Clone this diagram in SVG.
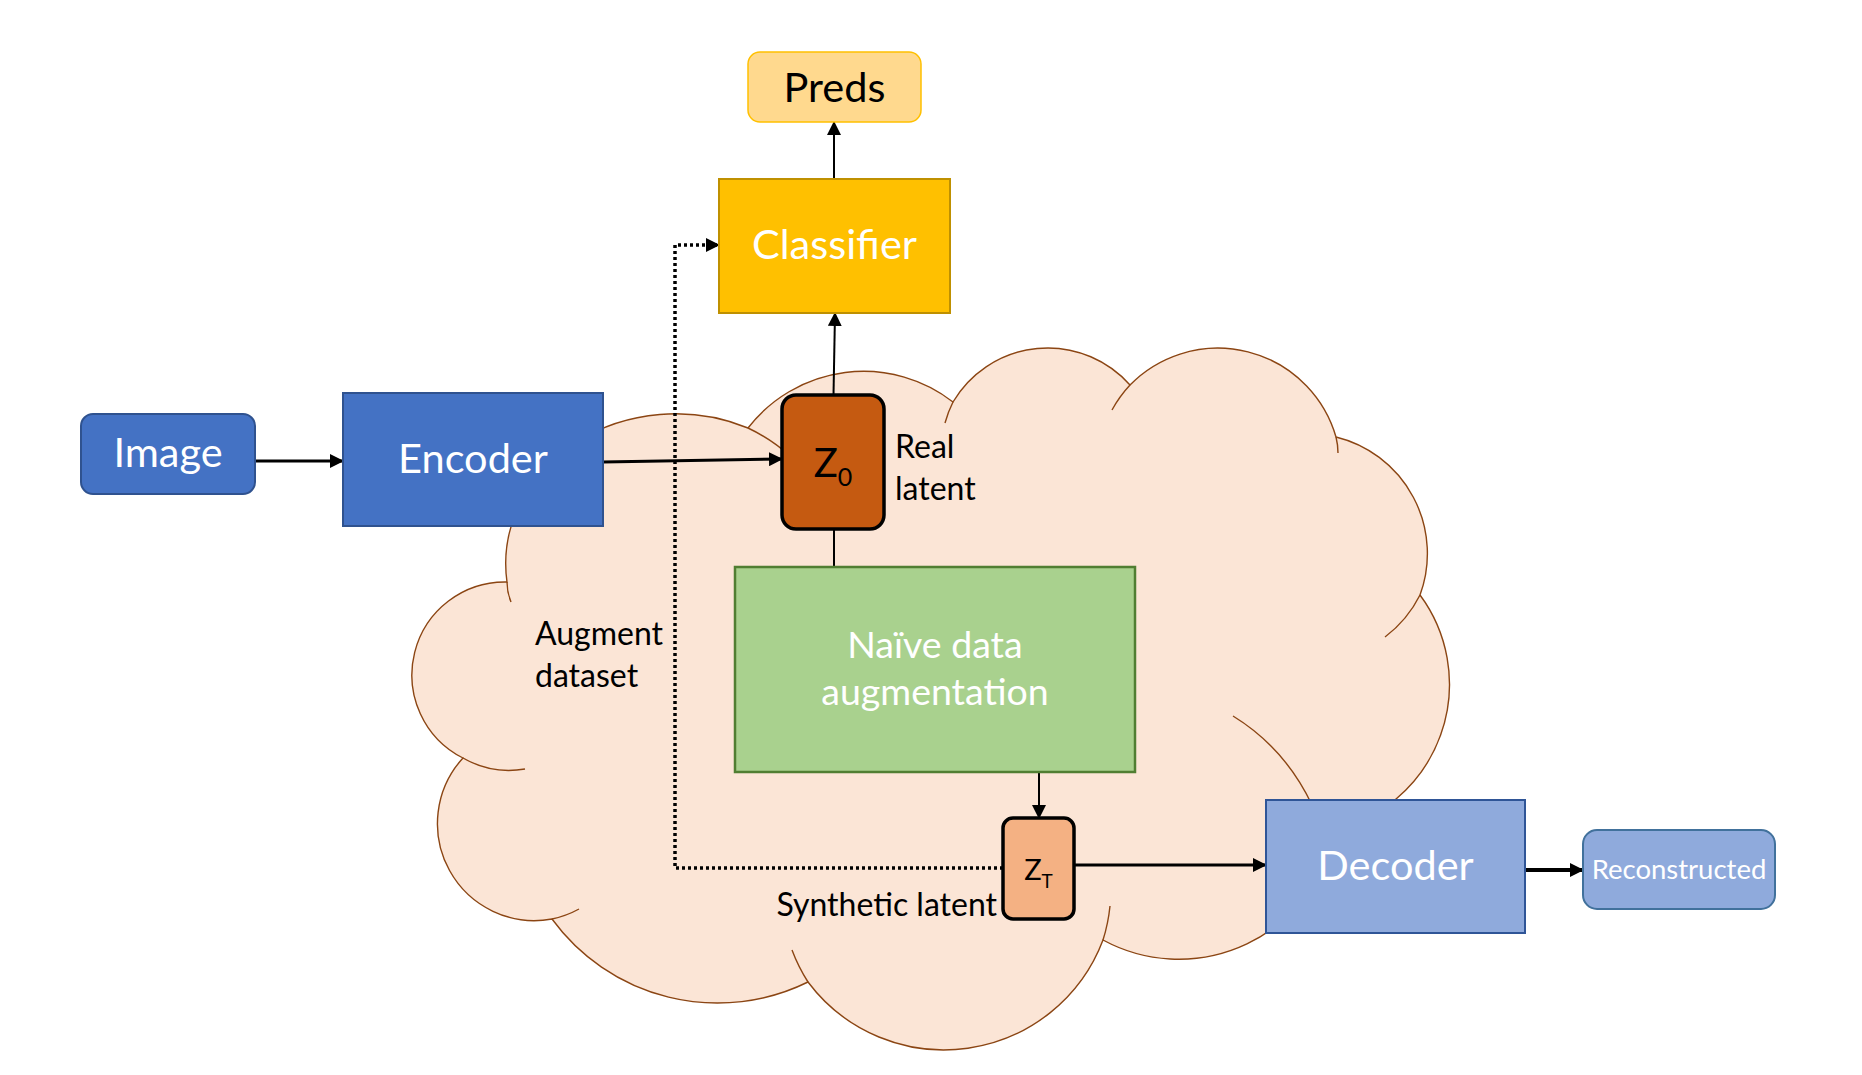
<svg xmlns="http://www.w3.org/2000/svg" width="1862" height="1075" viewBox="0 0 1862 1075">
<style>
.t{font-family:Lato,"Liberation Sans",sans-serif}
.w{fill:#ffffff}
.k{fill:#000000}
.big{font-size:41.5px}
.lab{font-size:32px}
.ln{stroke:#000;fill:none}
.cloud{fill:#FBE5D6;stroke:#8B4513;stroke-width:1.4}
.tail{fill:none;stroke:#8B4513;stroke-width:1.4}
</style>
<defs>
<marker id="ah" markerUnits="userSpaceOnUse" markerWidth="14" markerHeight="14" refX="13" refY="7" orient="auto">
<path d="M0,0 L14,7 L0,14 z" fill="#000"/>
</marker>
</defs>
<rect width="1862" height="1075" fill="#ffffff"/>
<g id="cloud">
<path class="cloud" d="M507 582 A170 150 0 0 1 748 428 A146 146 0 0 1 953 402 A110 110 0 0 1 1130 385 A123 123 0 0 1 1336 437 A120 120 0 0 1 1420 595 A150 150 0 0 1 1335 830 A159 159 0 0 1 1103 940 A170 170 0 0 1 808 982 A205 205 0 0 1 552 919 A97 97 0 0 1 463 758 A93 93 0 0 1 507 582 Z"/>
<path class="tail" d="M507 582 Q507 592 511 602 M463 758 A93 93 0 0 0 525 769 M552 919 A97 97 0 0 0 579 909 M808 982 A170 170 0 0 1 792 950 M1103 940 A170 170 0 0 0 1110 906 M1233 716 Q1285 748 1312 805 M1420 595 A120 120 0 0 1 1385 637 M1336 437 Q1338 445 1338 453 M1130 385 A123 123 0 0 0 1112 410 M953 402 A110 110 0 0 0 945 423 M748 428 A170 150 0 0 1 790 456"/>
</g>
<g id="connectors">
<line class="ln" x1="255" y1="461" x2="343" y2="461" stroke-width="3" marker-end="url(#ah)"/>
<line class="ln" x1="603" y1="462" x2="782" y2="459" stroke-width="3" marker-end="url(#ah)"/>
<line class="ln" x1="833.5" y1="395" x2="835" y2="313" stroke-width="2" marker-end="url(#ah)"/>
<line class="ln" x1="834" y1="179" x2="834" y2="122" stroke-width="2" marker-end="url(#ah)"/>
<line class="ln" x1="834" y1="529" x2="834" y2="567" stroke-width="2"/>
<line class="ln" x1="1039" y1="772" x2="1039" y2="818" stroke-width="2" marker-end="url(#ah)"/>
<line class="ln" x1="1074" y1="865" x2="1266" y2="865" stroke-width="3" marker-end="url(#ah)"/>
<line class="ln" x1="1525" y1="870" x2="1583" y2="870" stroke-width="4" marker-end="url(#ah)"/>
<path class="ln" d="M1003 868 L675 868 L675 245 L719 245" stroke-width="3.5" stroke-dasharray="3 3" marker-end="url(#ah)"/>
</g>
<g id="image">
<rect x="81" y="414" width="174" height="80" rx="12" fill="#4472C4" stroke="#2F528F" stroke-width="2"/>
<text class="t w big" x="168" y="467" text-anchor="middle">Image</text>
</g>
<g id="encoder">
<rect x="343" y="393" width="260" height="133" fill="#4472C4" stroke="#2F528F" stroke-width="2"/>
<text class="t w big" x="473" y="473" text-anchor="middle">Encoder</text>
</g>
<g id="preds">
<rect x="748" y="52" width="173" height="70" rx="12" fill="#FFD98E" stroke="#FFC000" stroke-width="1.5"/>
<text class="t k big" x="834.5" y="102" text-anchor="middle">Preds</text>
</g>
<g id="classifier">
<rect x="719" y="179" width="231" height="134" fill="#FFC000" stroke="#BF9000" stroke-width="2"/>
<text class="t w big" x="834.5" y="259" text-anchor="middle">Classifier</text>
</g>
<g id="z0">
<rect x="782" y="395" width="102" height="134" rx="14" fill="#C55A11" stroke="#000" stroke-width="3.5"/>
<text class="t k" x="833" y="477" text-anchor="middle" font-size="40">Z<tspan font-size="25" dy="9">0</tspan></text>
</g>
<g id="real-latent-label">
<text class="t k lab" x="895" y="458">Real</text>
<text class="t k lab" x="895" y="500">latent</text>
</g>
<g id="augmentation">
<rect x="735" y="567" width="400" height="205" fill="#A9D18E" stroke="#507E32" stroke-width="2.5"/>
<text class="t w" x="935" y="658" text-anchor="middle" font-size="37.5">Naïve data</text>
<text class="t w" x="935" y="705" text-anchor="middle" font-size="37.5">augmentation</text>
</g>
<g id="augment-label">
<text class="t k lab" x="535" y="645">Augment</text>
<text class="t k lab" x="535" y="687">dataset</text>
</g>
<g id="zt">
<rect x="1003" y="818" width="71" height="101" rx="10" fill="#F4B183" stroke="#000" stroke-width="3.5"/>
<text class="t k" x="1038.5" y="880" text-anchor="middle" font-size="29">Z<tspan font-size="19" dy="8">T</tspan></text>
</g>
<g id="synthetic-label">
<text class="t k lab" x="997" y="916" text-anchor="end">Synthetic latent</text>
</g>
<g id="decoder">
<rect x="1266" y="800" width="259" height="133" fill="#8FAADC" stroke="#2F5597" stroke-width="2"/>
<text class="t w big" x="1395.5" y="880" text-anchor="middle">Decoder</text>
</g>
<g id="reconstructed">
<rect x="1583" y="830" width="192" height="79" rx="14" fill="#8FAADC" stroke="#41719C" stroke-width="2"/>
<text class="t w" x="1679" y="879" text-anchor="middle" font-size="27.5">Reconstructed</text>
</g>
</svg>
